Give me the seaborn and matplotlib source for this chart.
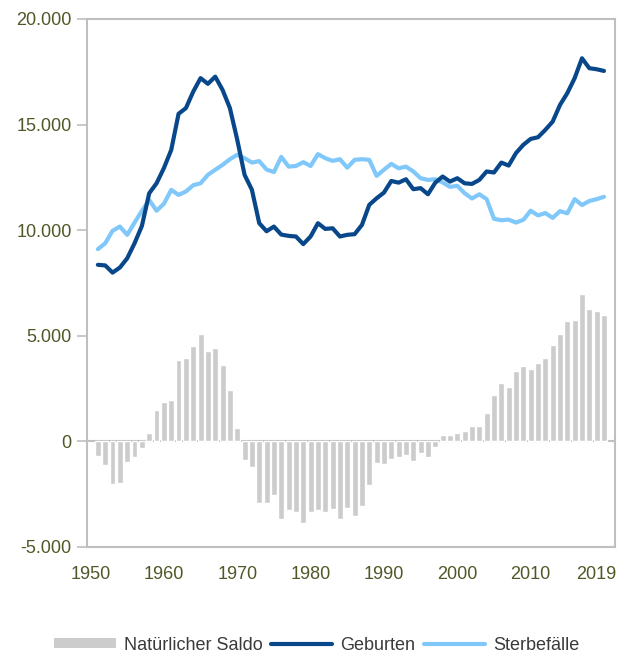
import numpy as np
import pandas as pd
import seaborn as sns
import matplotlib.pyplot as plt
from matplotlib.patches import Patch
from matplotlib.lines import Line2D
from matplotlib.ticker import FuncFormatter

# Data
years = list(range(1951, 2021))

geburten = [8360, 8330, 7990, 8230, 8670, 9380, 10200, 11750, 12220, 12940,
            13800, 15510, 15780, 16560, 17200, 16930, 17270, 16640, 15780, 14280,
            12620, 11910, 10330, 9950, 10170, 9790, 9730, 9700, 9340, 9700,
            10330, 10060, 10090, 9700, 9780, 9810, 10250, 11200, 11510, 11780,
            12330, 12250, 12410, 11940, 11990, 11700, 12250, 12540, 12300, 12460,
            12220, 12190, 12380, 12780, 12730, 13200, 13060, 13650, 14040, 14320,
            14400, 14750, 15140, 15930, 16490, 17200, 18140, 17670, 17620, 17540]

sterbefaelle = [9100, 9380, 9970, 10170, 9780, 10360, 10910, 11430, 10920, 11250,
                11910, 11670, 11830, 12130, 12220, 12620, 12860, 13090, 13360, 13570,
                13410, 13200, 13270, 12870, 12750, 13470, 13010, 13040, 13220, 13040,
                13600, 13410, 13280, 13360, 12960, 13330, 13360, 13330, 12570, 12860,
                13140, 12930, 13010, 12780, 12460, 12380, 12410, 12260, 12050, 12100,
                11750, 11500, 11700, 11470, 10540, 10470, 10500, 10360, 10490, 10920,
                10700, 10810, 10580, 10900, 10800, 11470, 11190, 11380, 11470, 11580]

saldo = [-710, -1100, -2000, -1950, -1000, -760, -330, 410, 1500, 1880,
         1970, 3860, 3960, 4530, 5100, 4290, 4430, 3630, 2440, 650,
         -900, -1230, -2930, -2930, -2560, -3690, -3270, -3360, -3880, -3360,
         -3270, -3360, -3220, -3660, -3180, -3530, -3070, -2050, -1010, -1050,
         -820, -730, -630, -950, -570, -760, -280, 280, 280, 380,
         470, 710, 710, 1320, 2180, 2740, 2560, 3310, 3550, 3410,
         3690, 3930, 4540, 5060, 5680, 5730, 6960, 6290, 6150, 5960]

tick_years = [1950, 1960, 1970, 1980, 1990, 2000, 2010, 2019]
tick_labels = [str(y) for y in tick_years]

df = pd.DataFrame({'Jahr': years, 'Geburten': geburten,
                   'Sterbefälle': sterbefaelle, 'Saldo': saldo})

c_bar = '#cccccc'
c_geb = '#08488a'
c_ster = '#80c8fa'
c_tick = '#4f5826'
c_frame = '#bfbfbf'

sns.set_style('white')
plt.rcParams['font.family'] = ['Liberation Sans', 'DejaVu Sans']

fig = plt.figure(figsize=(6.25, 6.55), dpi=100)
ax = fig.add_axes([0.139, 0.165, 0.845, 0.806])

ax.axhline(0, color=c_frame, lw=1.5, zorder=0)
sns.barplot(data=df, x='Jahr', y='Saldo', native_scale=True, color=c_bar,
            saturation=1, width=0.8, errorbar=None, ax=ax, zorder=1)
sns.lineplot(data=df, x='Jahr', y='Geburten', color=c_geb, lw=3, ax=ax, zorder=3)
sns.lineplot(data=df, x='Jahr', y='Sterbefälle', color=c_ster, lw=3, ax=ax, zorder=2)

ax.set_xlim(1949.5, 2021.5)
ax.set_ylim(-5000, 20000)
ax.set_yticks(np.arange(-5000, 20001, 5000))
ax.yaxis.set_major_formatter(FuncFormatter(lambda v, p: f'{int(v):,}'.replace(',', '.')))
ax.set_xticks(tick_years)
ax.set_xticklabels(tick_labels)
ax.set_xlabel('')
ax.set_ylabel('')

for s in ax.spines.values():
    s.set_visible(True)
    s.set_color(c_frame)
    s.set_linewidth(1.5)

ax.tick_params(axis='y', length=7, width=1.2, color=c_frame, pad=4,
               labelsize=13, labelcolor=c_tick, left=True)
ax.tick_params(axis='x', length=0, pad=14, labelsize=13, labelcolor=c_tick)

handles = [Patch(facecolor=c_bar, edgecolor='none'),
           Line2D([], [], color=c_geb, lw=3),
           Line2D([], [], color=c_ster, lw=3)]
labels = ['Natürlicher Saldo', 'Geburten', 'Sterbefälle']
fig.legend(handles, labels, loc='center', bbox_to_anchor=(0.507, 1 - 645 / 655),
           ncol=3, frameon=False, fontsize=13, handlelength=3.4, handleheight=0.5,
           handletextpad=0.45, columnspacing=0.45, labelcolor='#3a3a3a')

plt.savefig('out.png', dpi=100)
plt.close()
